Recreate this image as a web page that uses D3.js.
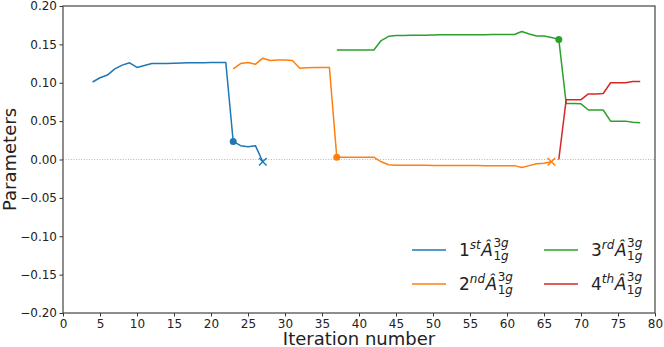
<!DOCTYPE html>
<html>
<head>
<meta charset="utf-8">
<script src="https://cdn.jsdelivr.net/npm/d3@7"></script>
<style>
  body { margin: 0; background: #fff; }
  svg { display: block; font-family: "DejaVu Sans", sans-serif; }
</style>
</head>
<body>
<div id="chart"></div>
<script>
// Data
const iterBlue = d3.range(4, 28);
const valBlue = [0.101, 0.1065, 0.110, 0.118, 0.123, 0.126, 0.120, 0.1225, 0.125, 0.125,
                 0.125, 0.1255, 0.1258, 0.126, 0.126, 0.1262, 0.1265, 0.1265, 0.1265,
                 0.0235, 0.018, 0.0165, 0.018, -0.003];

const iterOrange = d3.range(23, 67);
const valOrange = [0.118, 0.125, 0.1265, 0.124, 0.132, 0.129, 0.1295, 0.1295, 0.129, 0.119,
                   0.1195, 0.120, 0.120, 0.120, 0.003, 0.003, 0.003, 0.003, 0.003, 0.003,
                   -0.003, -0.0068, -0.0075, -0.0075, -0.0075, -0.0076, -0.0076, -0.0077, -0.0077, -0.0078,
                   -0.0078, -0.0078, -0.0079, -0.0079, -0.008, -0.008, -0.008, -0.008, -0.008, -0.0105,
                   -0.008, -0.0055, -0.005, -0.003];

const iterGreen = d3.range(37, 79);
const valGreen = [0.1426, 0.1426, 0.1426, 0.1426, 0.1426, 0.1426, 0.155, 0.1605, 0.1615, 0.1615,
                  0.1618, 0.162, 0.162, 0.1622, 0.1625, 0.1625, 0.1625, 0.1626, 0.1626, 0.1627,
                  0.1627, 0.1628, 0.1628, 0.1628, 0.1628, 0.1668, 0.1635, 0.161, 0.1608, 0.159,
                  0.1565, 0.073, 0.073, 0.0725, 0.0645, 0.0645, 0.0645, 0.050, 0.050, 0.050,
                  0.0485, 0.048];

const iterRed = d3.range(67, 79);
const valRed = [0.0, 0.078, 0.078, 0.078, 0.0855, 0.0855, 0.086, 0.100, 0.100, 0.100, 0.1015, 0.1015];

const seriesNames = [["1", "st"], ["2", "nd"], ["3", "rd"], ["4", "th"]];
const colors = ["#1f77b4", "#ff7f0e", "#2ca02c", "#d62728"];

// start points (circle) and end points (cross)
const circleIdx = [[0, 23], [1, 37], [2, 67]];
const crossIdx = [[0, 27], [1, 66]];

const xTicks = d3.range(0, 81, 5);
const yTicks = [-0.20, -0.15, -0.10, -0.05, 0.00, 0.05, 0.10, 0.15, 0.20];

const margin = { top: 6, right: 9, bottom: 34, left: 63 };
const W = 664, H = 347;
const width = W - margin.left - margin.right;
const height = H - margin.top - margin.bottom;

const svg = d3.select("#chart").append("svg")
    .attr("width", W)
    .attr("height", H);

const g = svg.append("g")
    .attr("transform", `translate(${margin.left},${margin.top})`);

const x = d3.scaleLinear().domain([0, 80]).range([0, width]);
const y = d3.scaleLinear().domain([-0.2, 0.2]).range([height, 0]);

// zero reference line
g.append("line")
    .attr("x1", 0).attr("x2", width)
    .attr("y1", y(0)).attr("y2", y(0))
    .attr("stroke", "#b0b0b0")
    .attr("stroke-width", 0.9)
    .attr("stroke-dasharray", "1,1.6");

const allSeries = [
    { it: iterBlue, v: valBlue },
    { it: iterOrange, v: valOrange },
    { it: iterGreen, v: valGreen },
    { it: iterRed, v: valRed }
];

const line = d3.line()
    .x(d => x(d[0]))
    .y(d => y(d[1]));

allSeries.forEach((s, i) => {
    const pts = s.it.map((t, k) => [t, s.v[k]]);
    g.append("path")
        .datum(pts)
        .attr("fill", "none")
        .attr("stroke", colors[i])
        .attr("stroke-width", 1.5)
        .attr("stroke-linejoin", "round")
        .attr("d", line);
});

const valueAt = (si, t) => {
    const s = allSeries[si];
    return s.v[s.it.indexOf(t)];
};

circleIdx.forEach(([si, t]) => {
    g.append("circle")
        .attr("cx", x(t))
        .attr("cy", y(valueAt(si, t)))
        .attr("r", 3.5)
        .attr("fill", colors[si]);
});

crossIdx.forEach(([si, t]) => {
    const cx = x(t), cy = y(valueAt(si, t)), s = 3.8;
    g.append("path")
        .attr("d", `M${cx - s},${cy - s}L${cx + s},${cy + s}M${cx - s},${cy + s}L${cx + s},${cy - s}`)
        .attr("stroke", colors[si])
        .attr("stroke-width", 1.4)
        .attr("fill", "none");
});

// axes
const fmt = d => d3.format(".2f")(d).replace("-", "\u2212");
const xAxis = g.append("g")
    .attr("transform", `translate(0,${height})`)
    .call(d3.axisBottom(x).tickValues(xTicks).tickSize(3.5).tickPadding(2.5).tickSizeOuter(0));
const yAxis = g.append("g")
    .call(d3.axisLeft(y).tickValues(yTicks).tickFormat(fmt).tickSize(3.5).tickPadding(2.5).tickSizeOuter(0));

[xAxis, yAxis].forEach(a => {
    a.select(".domain").remove();
    a.selectAll("line").attr("stroke", "#333").attr("stroke-width", 1);
    a.selectAll("text").attr("fill", "#222").style("font-size", "12px")
        .style("font-family", "DejaVu Sans");
});

// frame
g.append("rect")
    .attr("x", 0).attr("y", 0)
    .attr("width", width).attr("height", height)
    .attr("fill", "none")
    .attr("stroke", "#444")
    .attr("stroke-width", 1.2);

// axis labels
svg.append("text")
    .attr("x", margin.left + width / 2)
    .attr("y", 345)
    .attr("text-anchor", "middle")
    .style("font-size", "18px")
    .attr("fill", "#222")
    .text("Iteration number");

svg.append("text")
    .attr("transform", `translate(16,${margin.top + height / 2}) rotate(-90)`)
    .attr("text-anchor", "middle")
    .style("font-size", "18px")
    .attr("fill", "#222")
    .text("Parameters");

// legend
const legendPos = [[412, 250], [412, 284], [544, 250], [544, 284]];
seriesNames.forEach((nm, i) => {
    const [lx, ly] = legendPos[i];
    const lg = svg.append("g").attr("transform", `translate(${lx},${ly})`);
    lg.append("line")
        .attr("x1", 0).attr("x2", 34)
        .attr("y1", 0).attr("y2", 0)
        .attr("stroke", colors[i])
        .attr("stroke-width", 1.5);

    const base = 6;
    let cx = 47;
    const t1 = lg.append("text").attr("x", cx).attr("y", base)
        .style("font-size", "17px").attr("fill", "#222").text(nm[0]);
    cx += t1.node().getComputedTextLength();
    const t2 = lg.append("text").attr("x", cx).attr("y", base - 7)
        .style("font-size", "12px").style("font-style", "italic").attr("fill", "#222").text(nm[1]);
    cx += t2.node().getComputedTextLength() + 0.5;
    const t3 = lg.append("text").attr("x", cx).attr("y", base)
        .style("font-size", "17px").style("font-style", "italic").attr("fill", "#222").text("\u00C2");
    cx += t3.node().getComputedTextLength() + 0.5;
    const sup = lg.append("text").attr("x", cx).attr("y", base - 9)
        .style("font-size", "12px").attr("fill", "#222");
    sup.append("tspan").text("3");
    sup.append("tspan").style("font-style", "italic").text("g");
    const sub = lg.append("text").attr("x", cx).attr("y", base + 4)
        .style("font-size", "12px").attr("fill", "#222");
    sub.append("tspan").text("1");
    sub.append("tspan").style("font-style", "italic").text("g");
});
</script>
</body>
</html>
